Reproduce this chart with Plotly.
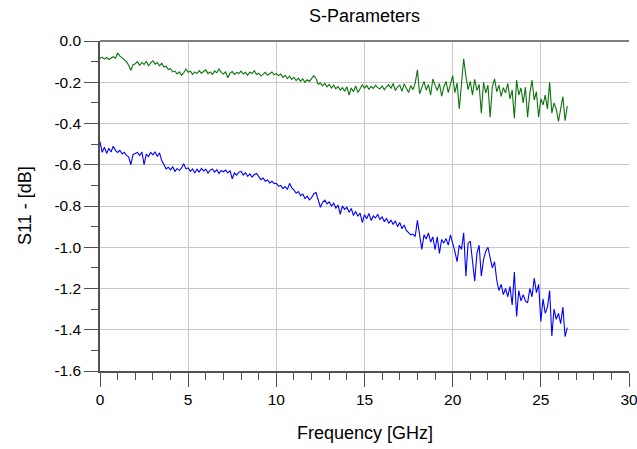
import numpy as np
import plotly.graph_objects as go

# Sweep: 0 to 26.5 GHz in 0.125 GHz steps
F_STEP = 0.125
N_POINTS = 213
freq_ghz = np.arange(N_POINTS) * F_STEP

# Upper trace (green), dB
s11_green = [
    -0.085, -0.078, -0.088, -0.080, -0.090, -0.082, -0.076, -0.084,
    -0.058, -0.072, -0.080, -0.092, -0.100, -0.118, -0.142, -0.115,
    -0.110, -0.100, -0.118, -0.104, -0.114, -0.098, -0.120, -0.106,
    -0.096, -0.112, -0.104, -0.120, -0.108, -0.126, -0.122, -0.138,
    -0.134, -0.150, -0.146, -0.160, -0.150, -0.166, -0.154, -0.136,
    -0.152, -0.146, -0.162, -0.150, -0.158, -0.144, -0.156, -0.148,
    -0.140, -0.158, -0.150, -0.162, -0.146, -0.154, -0.136, -0.152,
    -0.160, -0.150, -0.178, -0.156, -0.148, -0.162, -0.152, -0.158,
    -0.146, -0.160, -0.152, -0.166, -0.150, -0.158, -0.144, -0.162,
    -0.156, -0.170, -0.160, -0.152, -0.166, -0.156, -0.150, -0.164,
    -0.158, -0.168, -0.160, -0.176, -0.166, -0.182, -0.170, -0.186,
    -0.176, -0.192, -0.180, -0.196, -0.184, -0.200, -0.188, -0.196,
    -0.184, -0.168, -0.182, -0.210, -0.204, -0.218, -0.206, -0.222,
    -0.210, -0.228, -0.214, -0.232, -0.220, -0.238, -0.226, -0.244,
    -0.222, -0.262, -0.228, -0.246, -0.218, -0.250, -0.232, -0.212,
    -0.228, -0.216, -0.234, -0.220, -0.230, -0.214, -0.226, -0.232,
    -0.218, -0.236, -0.222, -0.212, -0.230, -0.206, -0.240, -0.222,
    -0.214, -0.244, -0.208, -0.232, -0.250, -0.216, -0.236, -0.204,
    -0.140, -0.256, -0.220, -0.196, -0.238, -0.212, -0.262, -0.184,
    -0.214, -0.240, -0.206, -0.268, -0.222, -0.196, -0.250, -0.214,
    -0.168, -0.250, -0.204, -0.330, -0.188, -0.086, -0.170, -0.236,
    -0.196, -0.262, -0.186, -0.240, -0.210, -0.350, -0.200, -0.252,
    -0.214, -0.370, -0.222, -0.184, -0.246, -0.214, -0.268, -0.226,
    -0.252, -0.206, -0.280, -0.238, -0.375, -0.190, -0.262, -0.228,
    -0.300, -0.224, -0.370, -0.254, -0.190, -0.286, -0.246, -0.370,
    -0.280, -0.310, -0.262, -0.330, -0.200, -0.350, -0.300, -0.330,
    -0.390, -0.336, -0.270, -0.386, -0.315,
]

# Lower trace (blue), dB
s11_blue = [
    -0.488, -0.540, -0.515, -0.545, -0.520, -0.538, -0.510, -0.530,
    -0.540, -0.530, -0.548, -0.540, -0.555, -0.562, -0.600, -0.550,
    -0.545, -0.540, -0.555, -0.538, -0.600, -0.548, -0.560, -0.540,
    -0.552, -0.538, -0.560, -0.542, -0.580, -0.600, -0.620, -0.612,
    -0.625, -0.610, -0.632, -0.618, -0.628, -0.615, -0.595, -0.620,
    -0.615, -0.632, -0.620, -0.640, -0.622, -0.635, -0.618, -0.630,
    -0.622, -0.640, -0.626, -0.620, -0.636, -0.624, -0.642, -0.628,
    -0.634, -0.626, -0.640, -0.628, -0.668, -0.640, -0.650, -0.636,
    -0.632, -0.650, -0.638, -0.656, -0.644, -0.660, -0.648, -0.642,
    -0.660, -0.672, -0.664, -0.680, -0.674, -0.688, -0.680, -0.692,
    -0.690, -0.704, -0.700, -0.716, -0.706, -0.720, -0.690, -0.712,
    -0.722, -0.738, -0.730, -0.750, -0.742, -0.764, -0.752, -0.770,
    -0.760, -0.740, -0.735, -0.770, -0.806, -0.782, -0.772, -0.790,
    -0.780, -0.800, -0.786, -0.810, -0.796, -0.840, -0.800, -0.816,
    -0.806, -0.830, -0.812, -0.846, -0.826, -0.850, -0.834, -0.880,
    -0.842, -0.862, -0.836, -0.870, -0.848, -0.858, -0.840, -0.866,
    -0.852, -0.876, -0.860, -0.884, -0.868, -0.890, -0.872, -0.900,
    -0.880, -0.910, -0.892, -0.918, -0.930, -0.940, -0.936, -0.948,
    -0.870, -0.930, -1.010, -0.940, -0.960, -0.930, -0.975, -0.950,
    -1.012, -0.950, -1.030, -0.962, -0.980, -0.958, -0.990, -0.940,
    -0.975, -1.020, -1.070, -0.990, -1.010, -0.930, -1.140, -0.980,
    -0.970, -1.060, -1.165, -1.030, -0.990, -1.140, -1.060, -1.020,
    -1.000, -1.050, -1.100, -1.070, -1.160, -1.210, -1.180, -1.230,
    -1.200, -1.240, -1.190, -1.280, -1.120, -1.336, -1.210, -1.260,
    -1.230, -1.260, -1.270, -1.200, -1.240, -1.150, -1.220, -1.180,
    -1.360, -1.250, -1.320, -1.290, -1.210, -1.430, -1.300, -1.350,
    -1.320, -1.370, -1.290, -1.433, -1.390,
]

x_ticks = [0, 5, 10, 15, 20, 25, 30]
y_ticks = [0.0, -0.2, -0.4, -0.6, -0.8, -1.0, -1.2, -1.4, -1.6]
y_tick_labels = [f"{v:.1f}" for v in y_ticks]

FONT = "Liberation Sans, Arial, sans-serif"
AXIS_COLOR = "#505050"
GRID_COLOR = "#c8c8c8"

fig = go.Figure()
fig.add_trace(go.Scatter(x=freq_ghz, y=s11_green, mode="lines",
                         line=dict(color="#0b730b", width=1.1), showlegend=False))
fig.add_trace(go.Scatter(x=freq_ghz, y=s11_blue, mode="lines",
                         line=dict(color="#0000ff", width=1.1), showlegend=False))

fig.update_layout(
    width=637, height=449,
    margin=dict(l=100, r=8, t=41, b=78),
    paper_bgcolor="white", plot_bgcolor="white",
    font=dict(family=FONT, size=15.5, color="#000000"),
    title=dict(text="S-Parameters", x=0.5, xref="paper", xanchor="center",
               y=1 - 16 / 449, yref="container", yanchor="middle",
               font=dict(family=FONT, size=18, color="#000000")),
    xaxis=dict(range=[0, 30], tickvals=x_ticks, ticks="outside", ticklen=14,
               tickwidth=1, tickcolor=AXIS_COLOR, showline=True, linecolor=AXIS_COLOR,
               linewidth=1.5, showgrid=True, gridcolor=GRID_COLOR, gridwidth=1,
               zeroline=False, automargin=False, ticklabeloverflow="allow",
               minor=dict(dtick=1, ticks="outside", ticklen=7, tickcolor=AXIS_COLOR,
                          showgrid=False)),
    yaxis=dict(range=[-1.6, 0.0], tickvals=y_ticks, ticktext=y_tick_labels,
               ticks="outside", ticklen=14, tickwidth=1, tickcolor=AXIS_COLOR,
               showline=True, linecolor=AXIS_COLOR, linewidth=1.5,
               showgrid=True, gridcolor=GRID_COLOR, gridwidth=1, zeroline=False,
               automargin=False, ticklabeloverflow="allow",
               minor=dict(dtick=0.1, ticks="outside", ticklen=7, tickcolor=AXIS_COLOR,
                          showgrid=False)),
    shapes=[dict(type="line", xref="x domain", yref="y domain", x0=0, x1=1, y0=1, y1=1,
                 line=dict(color="#808080", width=2))],
    annotations=[
        dict(text="Frequency [GHz]", xref="paper", yref="paper", x=0.5, y=0,
             xanchor="center", yanchor="middle", yshift=-62, showarrow=False,
             font=dict(family=FONT, size=18)),
        dict(text="S11 - [dB]", xref="paper", yref="paper", x=0, y=0.5,
             xanchor="center", yanchor="middle", xshift=-75, textangle=-90,
             showarrow=False, font=dict(family=FONT, size=18)),
    ],
)

fig.write_html("out.html")
